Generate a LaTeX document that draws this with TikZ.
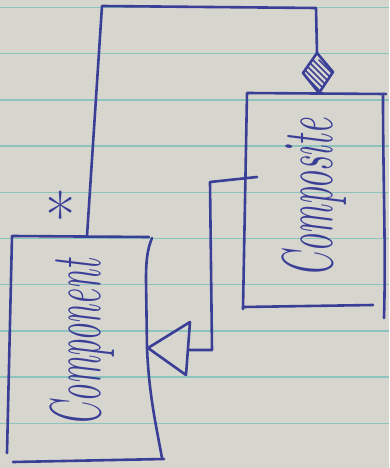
\documentclass[tikz,border=0pt]{standalone}
\usepackage{graphicx}
\definecolor{paper}{HTML}{D6D6CF}
\definecolor{rule}{HTML}{8CC3BC}
\definecolor{ink}{HTML}{3B3E96}
\begin{document}
\begin{tikzpicture}[x=1pt,y=-1pt,
  pen/.style={draw=ink, line width=2.6pt, line cap=round, line join=round},
  hatch/.style={draw=ink, line width=1.5pt, line cap=round},
  ruling/.style={draw=rule, line width=1.3pt},
  classname/.style={text=ink, inner sep=0pt, rotate=90, anchor=base, font=\itshape}]
% sheet of ruled paper
\fill[paper] (0,0) rectangle (389,468);
\useasboundingbox (0,0) rectangle (389,468);
\foreach \k in {0,...,9}
  \draw[ruling] (0,{7.5+46.2*\k}) -- (389,{7.5+46.2*\k});

% ---- class boxes (corner points) ----
\coordinate (cmpTL) at (12,236);
\coordinate (cmpTR) at (149,237);
\coordinate (cmpBL) at (7,453);
\coordinate (cmpBR) at (162,458);
\coordinate (cpsTL) at (247,93);
\coordinate (cpsTR) at (386,94);
\coordinate (cpsBL) at (243,309);
\coordinate (cpsBR) at (384,318);

% Component box
\draw[pen] (cmpBL) -- (cmpTL) -- (cmpTR);
\draw[pen] (152,238) .. controls (147,250) and (146,262) .. (146,280)
  -- (147,348) .. controls (149,395) and (156,425) .. (cmpBR);
\draw[pen] (13,462) -- (164,459);

% Composite box
\draw[pen] (cpsBL) -- (cpsTL) -- (cpsTR);
\draw[pen] (383,96) .. controls (383,180) and (386,250) .. (cpsBR);
\draw[pen] (243,307) -- (373,305);

% ---- class names ----
\node[classname] (component) at (100,343)
  {\scalebox{0.48}[1]{\fontsize{72}{72}\selectfont Component}};
\node[classname] (composite) at (332,198)
  {\scalebox{0.50}[1]{\fontsize{72}{72}\selectfont Composite}};

% ---- aggregation: Composite <>--* Component ----
\coordinate (aggFoot) at (87,236);
\coordinate (aggUp) at (102,6);
\coordinate (aggOver) at (316,8);
\coordinate (diaN) at (317,53);
\coordinate (diaW) at (303,73);
\coordinate (diaE) at (333,72);
\coordinate (diaS) at (319,93);
\draw[pen] (aggFoot) -- (aggUp) -- (aggOver) -- (diaN);
\begin{scope}
  \clip (diaN) -- (diaE) -- (diaS) -- (diaW) -- cycle;
  \foreach \d in {-20,-14,...,22}
    \draw[hatch] ({303+\d},60) -- ({333+\d},90);
\end{scope}
\draw[pen] (diaN) -- (diaE) -- (diaS) -- (diaW) -- cycle;
\node[text=ink, inner sep=0pt] (mult) at (61,216)
  {\fontsize{66}{66}\selectfont *};

% ---- generalization: Composite --|> Component ----
\coordinate (genStart) at (257,177);
\coordinate (genBend1) at (210,182);
\coordinate (genBend2) at (212,350);
\coordinate (triBase) at (188,350);
\coordinate (triTip) at (148,348);
\coordinate (triTop) at (190,322);
\coordinate (triBot) at (186,375);
\draw[pen] (genStart) -- (genBend1) -- (genBend2) -- (triBase);
\draw[pen] (triTop) -- (triTip) -- (triBot) -- cycle;
\end{tikzpicture}
\end{document}
